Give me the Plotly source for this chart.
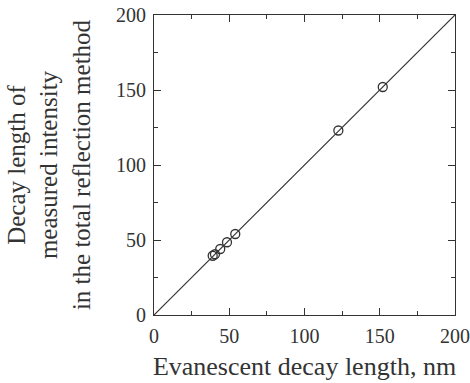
import plotly.graph_objects as go

# Data (nm)
evanescent_len = [39.0, 40.5, 44.0, 48.5, 54.0, 122.5, 152.0]
measured_len = [39.5, 40.5, 44.0, 48.5, 54.0, 123.0, 152.0]
line_x = [0, 200]
line_y = [0, 200]
tick_vals = [0, 50, 100, 150, 200]

ink = "#333333"
fnt = "Liberation Serif"

fig = go.Figure()
fig.add_trace(go.Scatter(x=line_x, y=line_y, mode="lines",
                         line=dict(color=ink, width=1.2), showlegend=False,
                         hoverinfo="skip"))
fig.add_trace(go.Scatter(x=evanescent_len, y=measured_len, mode="markers",
                         marker=dict(symbol="circle-open", size=9,
                                     color=ink, line=dict(width=1.3, color=ink)),
                         showlegend=False))

axis_common = dict(
    range=[0, 200], tickvals=tick_vals, ticks="inside", ticklen=7,
    tickwidth=1, tickcolor=ink, showline=True, linecolor=ink, linewidth=1.2,
    mirror="ticks", showgrid=False, zeroline=False,
    tickfont=dict(family=fnt, size=20, color=ink),
    minor=dict(dtick=25, ticks="inside", ticklen=4, tickcolor=ink, tickwidth=1),
)

fig.update_xaxes(**axis_common, ticklabelstandoff=3,
                 title=dict(text="Evanescent decay length, nm",
                            font=dict(family=fnt, size=26, color=ink),
                            standoff=10))
fig.update_yaxes(**axis_common, ticklabelstandoff=3,
                 title=dict(text="Decay length of<br>measured intensity<br>in the total reflection method",
                            font=dict(family=fnt, size=25, color=ink),
                            standoff=18))

fig.update_layout(
    width=470, height=383,
    margin=dict(l=154, r=15, t=15, b=68, autoexpand=False),
    plot_bgcolor="white", paper_bgcolor="white",
)
fig.update_xaxes(automargin=False)
fig.update_yaxes(automargin=False)

fig.write_html("out.html", config={"displayModeBar": False},
               post_script="document.body.style.margin='0';document.body.style.padding='0';")
